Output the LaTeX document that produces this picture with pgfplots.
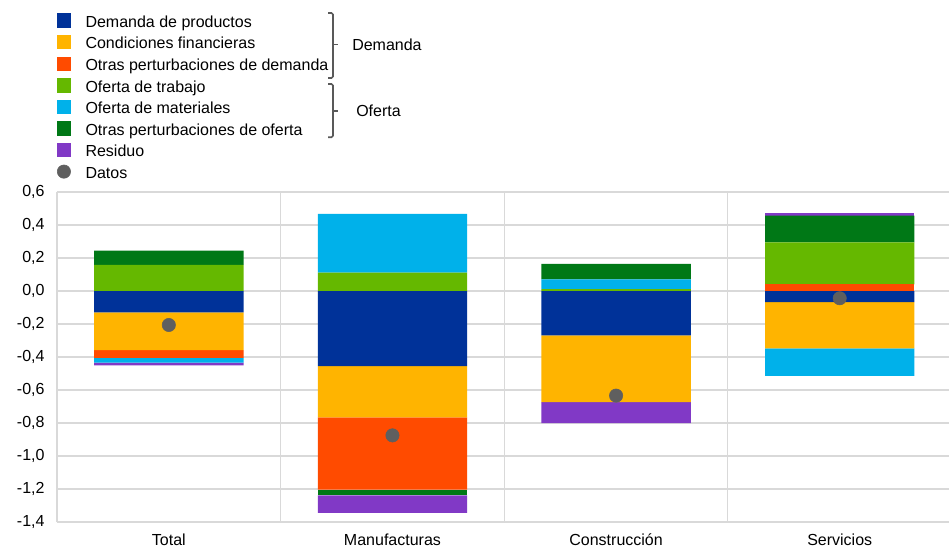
\documentclass[border=0pt]{standalone}
\usepackage{fontspec}
\setmainfont{Liberation Sans}
\usepackage{pgfplots}
\usepackage{pgfplotstable}
\pgfplotsset{compat=1.18}
\definecolor{cDP}{HTML}{003299}
\definecolor{cFC}{HTML}{FFB400}
\definecolor{cOD}{HTML}{FF4B00}
\definecolor{cLS}{HTML}{65B800}
\definecolor{cMS}{HTML}{00B1EA}
\definecolor{cOS}{HTML}{007816}
\definecolor{cR}{HTML}{8139C6}
\definecolor{cDot}{HTML}{5F5F5F}
\definecolor{cGrid}{HTML}{D9D9D9}
\definecolor{cBr}{HTML}{595959}

% positive parts (stacked upward from zero)
\pgfplotstableread{
x DP FC OD LS MS OS R
0 0 0 0 0.158 0 0.086 0
1 0 0 0 0.111 0.356 0 0
2 0 0 0 0.012 0.059 0.093 0
3 0 0 0.040 0.255 0 0.162 0.014
}\postab
% negative parts (stacked downward from zero)
\pgfplotstableread{
x DP FC OD LS MS OS R
0 -0.129 -0.229 -0.048 0 -0.028 0 -0.016
1 -0.455 -0.311 -0.438 0 0 -0.034 -0.107
2 -0.269 -0.404 0 0 0 0 -0.127
3 -0.067 -0.280 0 0 -0.168 0 0
}\negtab
\pgfplotstableread{
x y
0 -0.206
1 -0.875
2 -0.634
3 -0.044
}\datostab

\pgfplotsset{
  base/.style={
    scale only axis, width=670.9pt, height=247.5pt,
    at={(42.75pt,21.75pt)}, anchor=south west,
    xmin=-0.5, xmax=3.5, ymin=-1.4, ymax=0.6,
  },
  stk/.style={base, ybar stacked, bar width=0.668},
  sqr/.style={legend image code/.code={\fill[#1] (0pt,-3.2pt) rectangle (10pt,6.8pt);}},
}

\begin{document}
\begin{tikzpicture}[font=\fontsize{12}{14}\selectfont]
\path[use as bounding box] (0,0) rectangle (711.75pt,413.25pt);

% axis 1: grid, ticks, positive bars
\begin{axis}[stk,
  axis line style={draw=none},
  major tick length=0pt, minor tick length=0pt,
  xtick={0,1,2,3},
  xticklabels={Total, Manufacturas, Construcción, Servicios},
  minor xtick={-0.5,0.5,1.5,2.5},
  xminorgrids=true, xmajorgrids=false, ymajorgrids=true,
  grid style={cGrid, line width=0.8pt},
  minor grid style={cGrid, line width=0.8pt},
  ytick={-1.4,-1.2,-1,-0.8,-0.6,-0.4,-0.2,0,0.2,0.4,0.6},
  yticklabel style={/pgf/number format/fixed, /pgf/number format/fixed zerofill,
    /pgf/number format/precision=1, /pgf/number format/use comma,
    /pgf/number format/assume math mode=true, xshift=-5.8pt},
  xticklabel style={yshift=-5.5pt},
  every axis plot/.append style={draw=none},
]
\addplot[fill=cDP] table[x=x,y=DP]{\postab};
\addplot[fill=cFC] table[x=x,y=FC]{\postab};
\addplot[fill=cOD] table[x=x,y=OD]{\postab};
\addplot[fill=cLS] table[x=x,y=LS]{\postab};
\addplot[fill=cMS] table[x=x,y=MS]{\postab};
\addplot[fill=cOS] table[x=x,y=OS]{\postab};
\addplot[fill=cR]  table[x=x,y=R]{\postab};
\end{axis}

% axis 2: negative bars
\begin{axis}[stk, hide axis, every axis plot/.append style={draw=none}]
\addplot[fill=cDP] table[x=x,y=DP]{\negtab};
\addplot[fill=cFC] table[x=x,y=FC]{\negtab};
\addplot[fill=cOD] table[x=x,y=OD]{\negtab};
\addplot[fill=cLS] table[x=x,y=LS]{\negtab};
\addplot[fill=cMS] table[x=x,y=MS]{\negtab};
\addplot[fill=cOS] table[x=x,y=OS]{\negtab};
\addplot[fill=cR]  table[x=x,y=R]{\negtab};
\end{axis}

% axis 3: data points and legend
\begin{axis}[base, hide axis,
  legend cell align=left,
  legend style={at={(0,1.541)}, anchor=north west, draw=none, fill=none,
    inner sep=0pt, outer sep=0pt, row sep=3.4pt,
    nodes={inner sep=0pt, outer sep=0pt, text height=9.1pt, text depth=2.5pt},
    /tikz/every odd column/.append style={column sep=11pt}},
]
\addlegendimage{sqr=cDP}
\addlegendimage{sqr=cFC}
\addlegendimage{sqr=cOD}
\addlegendimage{sqr=cLS}
\addlegendimage{sqr=cMS}
\addlegendimage{sqr=cOS}
\addlegendimage{sqr=cR}
\addplot[only marks, mark=*, mark size=5pt, color=cDot,
  legend image code/.code={\fill[cDot] (5pt,1.8pt) circle (5pt);}]
  table[x=x,y=y]{\datostab};
\legend{Demanda de productos, Condiciones financieras, Otras perturbaciones de demanda,
  Oferta de trabajo, Oferta de materiales, Otras perturbaciones de oferta, Residuo, Datos}
\end{axis}

% brackets grouping the legend
\draw[cBr, line width=1.2pt, rounded corners=1.2pt]
  (246pt,403.5pt) -- (249.75pt,403.5pt) -- (249.75pt,354.75pt) -- (246pt,354.75pt);
\draw[cBr, line width=1.2pt] (249.75pt,379.9pt) -- (253.5pt,379.9pt);
\node[anchor=west, inner sep=0pt] at (264pt,379.5pt) {Demanda};
\draw[cBr, line width=1.2pt, rounded corners=1.2pt]
  (246pt,350.25pt) -- (249.75pt,350.25pt) -- (249.75pt,310.3pt) -- (246pt,310.3pt);
\draw[cBr, line width=1.2pt] (249.75pt,330pt) -- (253.5pt,330pt);
\node[anchor=west, inner sep=0pt] at (267pt,330pt) {Oferta};
\end{tikzpicture}
\end{document}
